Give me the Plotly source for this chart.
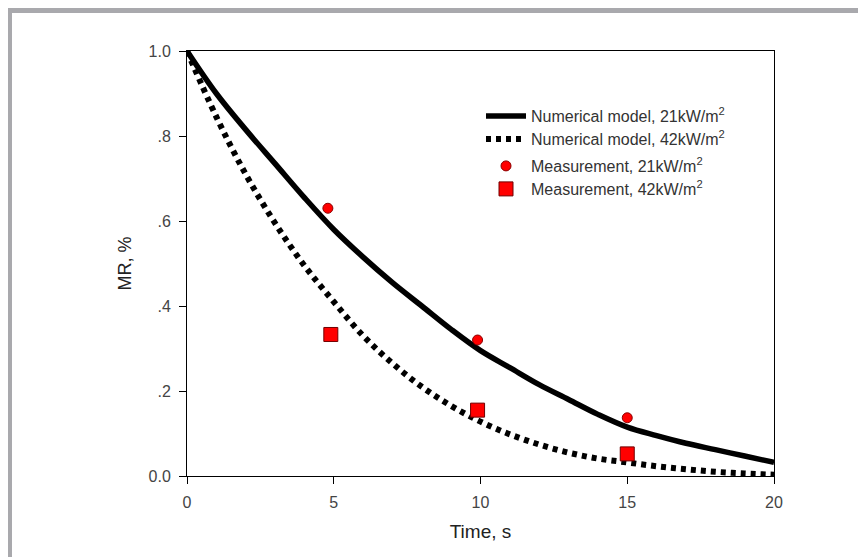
import plotly.graph_objects as go

# ---- data ----
time_model = [0, 1, 2, 3, 4, 5, 6, 7, 8, 9, 10, 11, 12, 13, 14, 15, 16, 17, 18, 19, 20]
mr_model_21 = [1.0, 0.90, 0.815, 0.735, 0.655, 0.58, 0.515, 0.455, 0.40, 0.345, 0.295,
               0.255, 0.215, 0.18, 0.145, 0.115, 0.095, 0.077, 0.062, 0.047, 0.032]
mr_model_42 = [1.0, 0.845, 0.71, 0.595, 0.495, 0.41, 0.33, 0.265, 0.21, 0.165, 0.128,
               0.098, 0.074, 0.055, 0.041, 0.032, 0.023, 0.016, 0.010, 0.006, 0.003]

time_meas_21 = [4.8, 9.9, 15.0]
mr_meas_21 = [0.63, 0.32, 0.137]
time_meas_42 = [4.9, 9.9, 15.0]
mr_meas_42 = [0.333, 0.155, 0.052]

y_tickvals = [0.0, 0.2, 0.4, 0.6, 0.8, 1.0]
y_ticktext = ["0.0", ".2", ".4", ".6", ".8", "1.0"]
x_tickvals = [0, 5, 10, 15, 20]

names = ["Numerical model, 21kW/m<sup>2</sup>", "Numerical model, 42kW/m<sup>2</sup>",
         "Measurement, 21kW/m<sup>2</sup>", "Measurement, 42kW/m<sup>2</sup>"]

# ---- geometry (page has an 8px body margin, so layout = page - 8) ----
OFF = 8
W, H = 866 - OFF, 557 - OFF
PL, PR, PT, PB = 187, 774, 51, 476          # plot edges in page pixels
ML, MR_, MT, MB = PL - OFF, W - (PR - OFF), PT - OFF, H - (PB - OFF)
pw, ph = W - ML - MR_, H - MT - MB


def px2x(px):  # page px -> paper x
    return (px - OFF - ML) / pw


def py2y(py):  # page px -> paper y
    return (H - MB - (py - OFF)) / ph


fig = go.Figure()
fig.add_trace(go.Scatter(
    x=time_model, y=mr_model_21, mode="lines", line=dict(color="black", width=5.5, shape="spline"),
    name=names[0], legend="legend"))
fig.add_trace(go.Scatter(
    x=time_model, y=mr_model_42, mode="lines",
    line=dict(color="black", width=6, dash="5px,5px", shape="spline"),
    name=names[1], legend="legend2"))
fig.add_trace(go.Scatter(
    x=time_meas_21, y=mr_meas_21, mode="markers",
    marker=dict(symbol="circle", size=10, color="#ff0000", line=dict(color="#8b0000", width=1)),
    name=names[2], legend="legend3"))
fig.add_trace(go.Scatter(
    x=time_meas_42, y=mr_meas_42, mode="markers",
    marker=dict(symbol="square", size=14, color="#ff0000", line=dict(color="#700000", width=1)),
    name=names[3], legend="legend4"))

gray = "#a9a9ad"
shapes = [
    dict(type="rect", xref="paper", yref="paper", x0=px2x(7), x1=px2x(880),
         y0=py2y(13), y1=py2y(8), fillcolor=gray, line=dict(width=0), layer="above"),
    dict(type="rect", xref="paper", yref="paper", x0=px2x(7), x1=px2x(12),
         y0=py2y(580), y1=py2y(8), fillcolor=gray, line=dict(width=0), layer="above"),
]

leg_font = dict(size=16, color="#333333", family="Liberation Sans, Arial, sans-serif")
leg_x = px2x(481)
leg_common = dict(x=leg_x, xanchor="left", yanchor="middle", bgcolor="rgba(0,0,0,0)",
                  font=leg_font, itemwidth=40, borderwidth=0)

fig.update_layout(
    width=W, height=H,
    margin=dict(l=ML, r=MR_, t=MT, b=MB),
    paper_bgcolor="white", plot_bgcolor="white",
    font=dict(family="Liberation Sans, Arial, sans-serif", color="#333333", size=15),
    showlegend=True,
    legend=dict(y=py2y(116), **leg_common),
    legend2=dict(y=py2y(139), **leg_common),
    legend3=dict(y=py2y(166), **leg_common),
    legend4=dict(y=py2y(189), **leg_common),
    shapes=shapes,
    xaxis=dict(range=[0, 20], tickvals=x_tickvals, ticks="outside", ticklen=7,
               tickcolor="black", showline=True, linecolor="black", linewidth=1,
               mirror=True, showgrid=False, zeroline=False, ticklabelstandoff=5,
               title=dict(text="Time, s", font=dict(size=19, color="#222222"), standoff=14),
               tickfont=dict(size=16, color="#444444")),
    yaxis=dict(range=[0, 1.0], tickvals=y_tickvals, ticktext=y_ticktext, ticks="outside",
               ticklen=7, tickcolor="black", showline=True, linecolor="black", linewidth=1,
               mirror=True, showgrid=False, zeroline=False, ticklabelstandoff=5,
               title=dict(text="MR, %", font=dict(size=18, color="#222222"), standoff=12),
               tickfont=dict(size=16, color="#444444")),
)

fig.write_html("out.html")
